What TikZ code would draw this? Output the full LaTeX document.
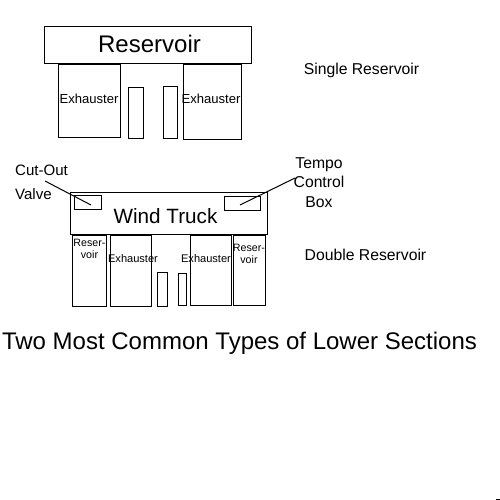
\documentclass[tikz,border=0pt]{standalone}
\usepackage{fontspec}
\setmainfont{Liberation Sans}
\begin{document}
\begin{tikzpicture}[
  x=0.75pt, y=-0.75pt,
  part/.style 2 args={draw=black, line width=0.75pt, fill=none, inner sep=0pt, outer sep=0pt, minimum width=#1*0.75pt, minimum height=#2*0.75pt},
  note/.style={inner sep=0pt, font=\fontsize{11.8}{14.5}\selectfont, align=center},
  exh/.style={inner sep=0pt, font=\fontsize{9.8}{12}\selectfont},
  exhs/.style={inner sep=0pt, font=\fontsize{8.3}{10}\selectfont},
  res/.style={inner sep=0pt, font=\fontsize{8}{9}\selectfont, align=center},
  lead/.style={draw=black, line width=0.75pt},
]
\useasboundingbox (0,0) rectangle (500,500);

% single reservoir
\node[part={207}{36.5}] (resTop) at (148,44.75) {};
\node[font=\fontsize{18}{22}\selectfont, inner sep=0pt] (resTopT) at (149.5,43.5) {Reservoir};
\node[part={62}{72.5}] (exhA) at (89.5,100.75) {};
\node[part={58}{74.5}] (exhB) at (212.5,101.75) {};
\node[part={15}{50.5}] (legA) at (136,112.75) {};
\node[part={14}{51.5}] (legB) at (170.5,112.25) {};
\node[exh] (exhAT) at (89,98.5) {Exhauster};
\node[exh] (exhBT) at (211,98.5) {Exhauster};
\node[note] (single) at (361.5,70.5) {Single Reservoir};

% double reservoir
\node[part={197}{41.5}] (truck) at (169,213.25) {};
\node[font=\fontsize{15.5}{19}\selectfont, inner sep=0pt] (truckT) at (165.5,216) {Wind Truck};
\node[part={27}{14.5}] (cutBox) at (87.5,202.25) {};
\node[part={36}{13.5}] (tempoBox) at (242,203.25) {};
\node[part={34}{70.5}] (resL) at (89.5,270.75) {};
\node[part={41}{71}] (exhC) at (131,270.5) {};
\node[part={40.5}{70}] (exhD) at (210.75,270) {};
\node[part={32}{70}] (resR) at (249.5,270) {};
\node[part={10}{34}] (legC) at (162.5,289) {};
\node[part={8}{32}] (legD) at (182.5,289) {};
\node[res] (resLT) at (89.5,248.5) {Reser-\\voir};
\node[res] (resRT) at (249,254) {Reser-\\voir};
\node[exhs] (exhCT) at (133,258.5) {Exhauster};
\node[exhs] (exhDT) at (206,259) {Exhauster};
\node[note] (double) at (365.5,255) {Double Reservoir};

% labels and leaders
\node[note, align=left, font=\fontsize{11.3}{18}\selectfont] (cutT) at (41.5,182.5) {Cut-Out\\Valve};
\node[note] (tempoT) at (319,182.5) {Tempo\\Control\\Box};
\coordinate (cutEnd) at (91,205);
\coordinate (cutStart) at (45,181);
\coordinate (tempoEnd) at (240,205);
\coordinate (tempoStart) at (295,178);
\draw[lead] (cutStart) -- (cutEnd);
\draw[lead] (tempoStart) -- (tempoEnd);

\node[inner sep=0pt, font=\fontsize{18}{22}\selectfont] (title) at (239.5,343.5) {Two Most Common Types of Lower Sections};

\coordinate (markA) at (496,499);
\coordinate (markB) at (500,499);
\draw[lead] (markA) -- (markB);
\end{tikzpicture}
\end{document}
